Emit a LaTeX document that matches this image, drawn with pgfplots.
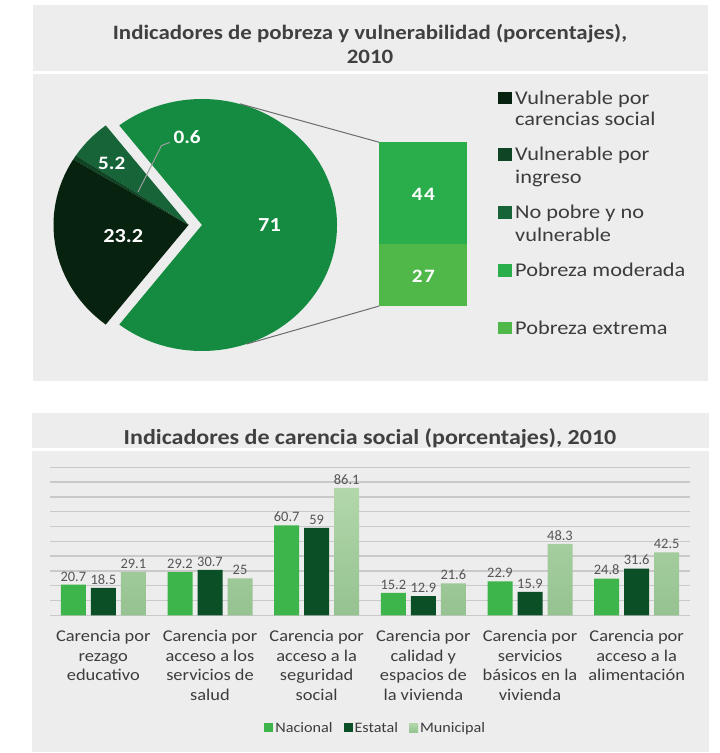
\documentclass[border=0pt]{standalone}
\usepackage{pgfplots}
\pgfplotsset{compat=1.18}
\usepackage{pgfplotstable}
\usepackage{fontspec}
\setmainfont{Carlito}
\newfontfamily\widefont[FakeStretch=1.12]{Carlito}
\newfontfamily\legfont[FakeStretch=1.15]{Carlito}

\definecolor{panel}{HTML}{EDEDED}
\definecolor{titlegray}{HTML}{404040}
\definecolor{txtgray}{HTML}{3C3C3C}
\definecolor{lblgray}{HTML}{555555}
\definecolor{gridgray}{HTML}{C9C9C9}
\definecolor{ccar}{HTML}{07220F}
\definecolor{cing}{HTML}{0F4424}
\definecolor{cnop}{HTML}{166438}
\definecolor{cpob}{HTML}{148B40}
\definecolor{cmod}{HTML}{2AAE4B}
\definecolor{cext}{HTML}{4FB848}
\definecolor{cnac}{HTML}{3DB54A}
\definecolor{cest}{HTML}{0A4F25}
\definecolor{cmuntop}{HTML}{B2D7AB}
\definecolor{cmunbot}{HTML}{95C290}

\pgfplotstableread{
key value
carencias 23.2
ingreso 0.6
nopobre 5.2
moderada 44
extrema 27
}\pietab

\pgfplotstableread{
x nac est mun
0 20.7 18.5 29.1
1 29.2 30.7 25
2 60.7 59 86.1
3 15.2 12.9 21.6
4 22.9 15.9 48.3
5 24.8 31.6 42.5
}\bartab

\begin{document}
\begin{tikzpicture}[x=1bp,y=1bp]
\pgfplotstablegetelem{0}{value}\of\pietab \let\vcar\pgfplotsretval
\pgfplotstablegetelem{1}{value}\of\pietab \let\ving\pgfplotsretval
\pgfplotstablegetelem{2}{value}\of\pietab \let\vnop\pgfplotsretval
\pgfplotstablegetelem{3}{value}\of\pietab \let\vmod\pgfplotsretval
\pgfplotstablegetelem{4}{value}\of\pietab \let\vext\pgfplotsretval
\pgfmathsetmacro\vpob{\vmod+\vext}
\pgfmathsetmacro\aA{-1.8*\vpob}
\pgfmathsetmacro\aB{1.8*\vpob}
\pgfmathsetmacro\aC{\aB+3.6*\vnop}
\pgfmathsetmacro\aD{\aC+3.6*\ving}
\pgfmathsetmacro\aE{\aD+3.6*\vcar}

\path[use as bounding box] (0,0) rectangle (720,753);
\fill[white] (0,0) rectangle (720,753);

% top panel
\fill[panel] (33,372.3) rectangle (708,748);
\draw[white, line width=3bp] (33,680) -- (708,680);
\node[font=\widefont\bfseries\fontsize{20.5}{23.5}\selectfont, text=titlegray, align=center] at (370,709) {Indicadores de pobreza y vulnerabilidad (porcentajes),\\2010};

% bottom panel
\fill[panel] (32,1.3) rectangle (709,340.3);
\draw[white, line width=3bp] (32,303) -- (709,303);
\node[font=\widefont\bfseries\fontsize{21.5}{24}\selectfont, text=titlegray] at (370,315) {Indicadores de carencia social (porcentajes), 2010};

% pie
\begin{axis}[at={(40bp,389.4bp)}, anchor=south west, x=135bp, y=126bp,
  xmin=-1.2, xmax=1.2, ymin=-1.1, ymax=1.1, hide axis, clip=false]
\addplot[draw=none, forget plot] coordinates {(0,0)};
\fill[cpob] (axis cs:0,0) -- ++(\aA:135bp and 126bp) arc[start angle=\aA, end angle=\aB, x radius=135bp, y radius=126bp] -- cycle;
\fill[cnop] (axis cs:-0.1,0) -- ++(\aB:135bp and 126bp) arc[start angle=\aB, end angle=\aC, x radius=135bp, y radius=126bp] -- cycle;
\fill[cing] (axis cs:-0.1,0) -- ++(\aC:135bp and 126bp) arc[start angle=\aC, end angle=\aD, x radius=135bp, y radius=126bp] -- cycle;
\fill[ccar] (axis cs:-0.1,0) -- ++(\aD:135bp and 126bp) arc[start angle=\aD, end angle=\aE, x radius=135bp, y radius=126bp] -- cycle;
\node[text=white, font=\widefont\bfseries\fontsize{20}{20}\selectfont] at (axis cs:0.5,0) {71};
\node[text=white, font=\widefont\bfseries\fontsize{20}{20}\selectfont] at (axis cs:-0.583,-0.085) {23.2};
\node[text=white, font=\widefont\bfseries\fontsize{19}{19}\selectfont] at (axis cs:-0.669,0.49) {5.2};
\node[text=white, font=\widefont\bfseries\fontsize{19}{19}\selectfont] at (axis cs:-0.11,0.70) {0.6};
\draw[gray!75, line width=1bp] (axis cs:-0.24,0.655) -- (axis cs:-0.30,0.63) -- (axis cs:-0.474,0.262);
\coordinate (ptop) at (axis cs:0.28,0.962);
\coordinate (pbot) at (axis cs:0.33,-0.945);
\end{axis}

% secondary stacked bar
\begin{axis}[at={(379.3bp,447bp)}, anchor=south west, scale only axis, width=88bp, height=163.7bp,
  xmin=-0.5, xmax=0.5, ymin=0, ymax=71, hide axis, ybar stacked, bar width=88bp, clip=false]
\addplot[fill=cext, draw=none] coordinates {(0,27)};
\addplot[fill=cmod, draw=none] coordinates {(0,44)};
\coordinate (l27) at (axis cs:0,12.8);
\coordinate (l44) at (axis cs:0,48.6);
\coordinate (btop) at (axis cs:-0.5,71);
\coordinate (bbot) at (axis cs:-0.5,0);
\end{axis}
\node[text=white, font=\widefont\bfseries\fontsize{19}{19}\selectfont] at (l27) {2\kern1.5bp7};
\node[text=white, font=\widefont\bfseries\fontsize{19}{19}\selectfont] at (l44) {4\kern1.5bp4};
\draw[gray!85!black, line width=1bp] (ptop) -- (btop);
\draw[gray!85!black, line width=1bp] (pbot) -- (bbot);

% top legend
\begin{scope}[every node/.style={anchor=base west, inner sep=0pt, text=txtgray, font=\legfont\fontsize{19.5}{22}\selectfont}]
\fill[ccar] (497.7,648.7) rectangle ++(14,12.5);
\node at (515,648.7) {Vulnerable por};
\node at (515,627) {carencias social};
\fill[cing] (497.7,592) rectangle ++(14,12.5);
\node at (515,592) {Vulnerable por};
\node at (515,569.7) {ingreso};
\fill[cnop] (497.7,534.3) rectangle ++(14,12.5);
\node at (515,534.3) {No pobre y no};
\node at (515,511.3) {vulnerable};
\fill[cmod] (497.7,476) rectangle ++(14,12.5);
\node at (515,476) {Pobreza moderada};
\fill[cext] (497.7,418.7) rectangle ++(14,12.5);
\node at (515,418.7) {Pobreza extrema};
\end{scope}

% bar chart
\begin{axis}[at={(50bp,137.7bp)}, anchor=south west, scale only axis, width=640bp, height=148bp,
  ybar=5bp, bar width=25bp, xmin=-0.5, xmax=5.5, ymin=0, ymax=100,
  ytick={0,10,...,100}, yticklabels={}, ymajorgrids, grid style={color=gridgray, line width=1.3bp},
  axis line style={draw=none}, major tick length=0pt,
  /pgf/number format/assume math mode=true,
  xtick={0,...,5},
  xticklabels={{Carencia por\\rezago\\educativo},{Carencia por\\acceso a los\\servicios de\\salud},{Carencia por\\acceso a la\\seguridad\\social},{Carencia por\\calidad y\\espacios de\\la vivienda},{Carencia por\\servicios\\básicos en la\\vivienda},{Carencia por\\acceso a la\\alimentación}},
  xticklabel style={align=center, font=\widefont\fontsize{16.5}{20}\selectfont, text=txtgray, yshift=-11bp},
  nodes near coords, nodes near coords style={font=\fontsize{14.5}{14.5}\selectfont, text=lblgray},
  legend style={at={(0.509,-0.76)}, anchor=center, draw=none, fill=none, legend columns=-1,
    font=\widefont\fontsize{14.5}{15}\selectfont, text=txtgray,
    /tikz/every even column/.append style={column sep=9bp}},
  legend image code/.code={\fill[#1] (0bp,-4.5bp) rectangle (9bp,4.5bp);},
  clip=false]
\addplot[fill=cnac, draw=none] table[x=x,y=nac]\bartab;
\addplot[fill=cest, draw=none] table[x=x,y=est]\bartab;
\addplot[draw=none, top color=cmuntop, bottom color=cmunbot] table[x=x,y=mun]\bartab;
\legend{Nacional,Estatal,Municipal}
\end{axis}
\end{tikzpicture}
\end{document}
